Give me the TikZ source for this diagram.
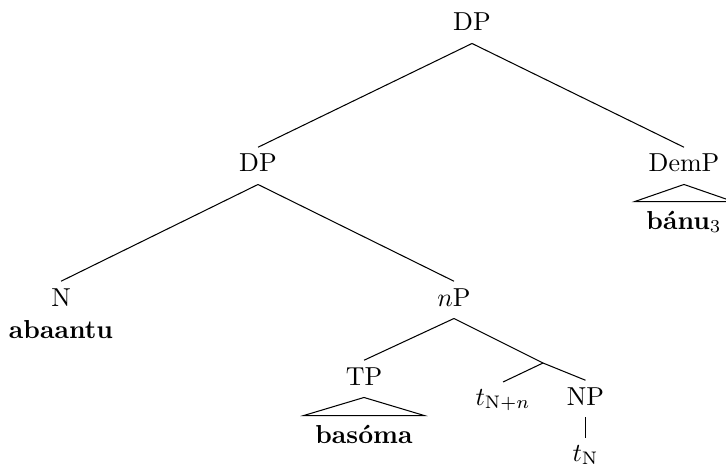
\documentclass[tikz,border=0pt]{standalone}
\usepackage{fontspec}
\usepackage{amsmath}

\tikzset{
  cat/.style={anchor=base, inner sep=2.5pt, text depth=2.1pt},
  roof/.style={anchor=base, font=\bfseries, inner xsep=4.3pt},
}

\begin{document}
\begin{tikzpicture}[x=0.385pt,y=-0.385pt]
  \clip (0,0) rectangle (726,467);
  % vertices
  \node[cat] (dp) at (472,31) {DP};
  \node[cat] (dpl) at (258,172) {DP};
  \node[cat] (demp) at (684,172) {DemP};
  \node[cat] (n) at (61,306) {N};
  \node[cat] (np) at (454,306) {$n$P};
  \node[cat] (tp) at (364,385) {TP};
  \coordinate (bar) at (543,363);
  \node[cat] (trace) at (503,405) {$t_{\mathrm{N}+n}$};
  \node[cat] (npl) at (585.5,405) {NP};
  \node[cat] (tn) at (585.5,461) {$t_{\mathrm{N}}$};

  % words
  \node[roof] (banu) at (684,229) {bánu$_3$};
  \node[roof] (abaantu) at (61,338) {abaantu};
  \node[roof] (basoma) at (364,443) {basóma};

  % draw tree
  \draw (dp.south) -- (dpl.north);
  \draw (dp.south) -- (demp.north);
  \draw (dpl.south) -- (n.north);
  \draw (dpl.south) -- (np.north);
  \draw (np.south) -- (tp.north);
  \draw (np.south) -- (bar) -- (npl.north);
  \draw (bar) -- (trace.north);
  \draw (npl.south) -- (tn.north);

  % roofs
  \draw (demp.south) -- (banu.north west) -- (banu.north east) -- cycle;
  \draw (tp.south) -- (basoma.north west) -- (basoma.north east) -- cycle;
\end{tikzpicture}
\end{document}
